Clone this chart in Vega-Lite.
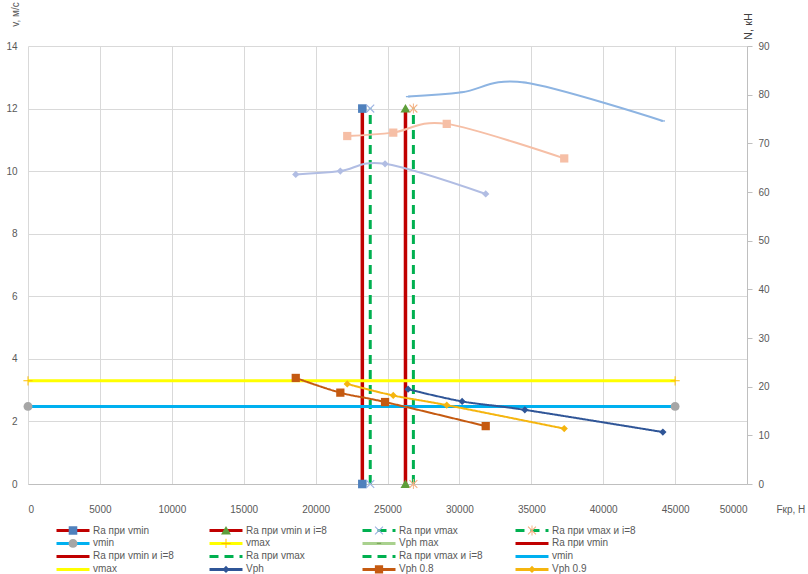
{
  "$schema": "https://vega.github.io/schema/vega-lite/v6.json",
  "width": 719,
  "height": 438,
  "autosize": {"type": "none"},
  "padding": {"left": 28, "top": 46, "right": 61, "bottom": 90},
  "background": "white",
  "config": {
    "view": {"stroke": null},
    "font": "Liberation Sans",
    "axis": {
      "labelFont": "Liberation Sans",
      "labelFontSize": 10,
      "labelColor": "#595959",
      "titleFont": "Liberation Sans",
      "titleFontSize": 10,
      "titleFontWeight": "normal",
      "titleColor": "#595959",
      "gridColor": "#D9D9D9",
      "gridWidth": 1,
      "domainColor": "#BFBFBF",
      "tickColor": "#BFBFBF"
    },
    "legend": {"labelFont": "Liberation Sans", "labelFontSize": 10, "labelColor": "#595959", "padding": 0}
  },
  "datasets": {
    "v": [
      {"s": "Ra при vmin#1", "F": 23250, "v": 0},
      {"s": "Ra при vmin#1", "F": 23250, "v": 12},
      {"s": "Ra при vmin и i=8#1", "F": 26250, "v": 0},
      {"s": "Ra при vmin и i=8#1", "F": 26250, "v": 12},
      {"s": "Ra при vmax#1", "F": 23800, "v": 0},
      {"s": "Ra при vmax#1", "F": 23800, "v": 12},
      {"s": "Ra при vmax и i=8#1", "F": 26800, "v": 0},
      {"s": "Ra при vmax и i=8#1", "F": 26800, "v": 12},
      {"s": "vmin#1", "F": 0, "v": 2.48},
      {"s": "vmin#1", "F": 45000, "v": 2.48},
      {"s": "vmax#1", "F": 0, "v": 3.3},
      {"s": "vmax#1", "F": 45000, "v": 3.3},
      {"s": "Vph", "F": 26430, "v": 3.03},
      {"s": "Vph", "F": 30190, "v": 2.64},
      {"s": "Vph", "F": 34550, "v": 2.37},
      {"s": "Vph", "F": 44150, "v": 1.66},
      {"s": "Vph 0.8", "F": 18620, "v": 3.39},
      {"s": "Vph 0.8", "F": 21720, "v": 2.92},
      {"s": "Vph 0.8", "F": 24830, "v": 2.62},
      {"s": "Vph 0.8", "F": 31830, "v": 1.85},
      {"s": "Vph 0.9", "F": 22200, "v": 3.2},
      {"s": "Vph 0.9", "F": 25400, "v": 2.83},
      {"s": "Vph 0.9", "F": 29120, "v": 2.52},
      {"s": "Vph 0.9", "F": 37290, "v": 1.77}
    ],
    "n": [
      {"s": "N Vph", "F": 26430, "N": 79.6},
      {"s": "N Vph", "F": 30190, "N": 80.5},
      {"s": "N Vph", "F": 34550, "N": 82.5},
      {"s": "N Vph", "F": 44150, "N": 74.6},
      {"s": "N Vph 0.9", "F": 22200, "N": 71.5},
      {"s": "N Vph 0.9", "F": 25400, "N": 72.2},
      {"s": "N Vph 0.9", "F": 29120, "N": 74.0},
      {"s": "N Vph 0.9", "F": 37290, "N": 66.9},
      {"s": "N Vph 0.8", "F": 18620, "N": 63.6},
      {"s": "N Vph 0.8", "F": 21720, "N": 64.3},
      {"s": "N Vph 0.8", "F": 24830, "N": 65.8},
      {"s": "N Vph 0.8", "F": 31830, "N": 59.6}
    ]
  },
  "encoding": {
    "x": {
      "field": "F",
      "type": "quantitative",
      "scale": {"domain": [0, 50000], "nice": false, "zero": false},
      "axis": {
        "values": [0, 5000, 10000, 15000, 20000, 25000, 30000, 35000, 40000, 45000, 50000],
        "format": "d",
        "grid": true,
        "ticks": false,
        "tickSize": 0,
        "domain": true,
        "labelPadding": 20,
        "title": "Fкр, Н",
        "titleX": 748,
        "titleY": 25,
        "titleAngle": 0,
        "titleAlign": "left",
        "titleAnchor": "start",
        "titleBaseline": "middle"
      }
    }
  },
  "layer": [
    {
      "data": {"name": "v"},
      "encoding": {
        "y": {
          "field": "v",
          "type": "quantitative",
          "scale": {"domain": [0, 14], "nice": false},
          "axis": {
            "orient": "left",
            "values": [0, 2, 4, 6, 8, 10, 12, 14],
            "grid": true,
            "domain": false,
            "ticks": false,
            "tickSize": 0,
            "labelPadding": 11,
            "title": "v, м/с",
            "titleAngle": -90,
            "titleX": -13,
            "titleY": -32,
            "titleAlign": "center",
            "titleBaseline": "middle"
          }
        }
      },
      "layer": [
        {
          "mark": {"type": "line", "interpolate": "cardinal", "strokeCap": "butt"},
          "encoding": {
            "stroke": {
              "field": "s",
              "type": "nominal",
              "scale": {
                "domain": ["Ra при vmin#1", "Ra при vmin и i=8#1", "Ra при vmax#1", "Ra при vmax и i=8#1", "vmin#1", "vmax#1", "Vph max", "Ra при vmin#2", "Ra при vmin и i=8#2", "Ra при vmax#2", "Ra при vmax и i=8#2", "vmin#2", "vmax#2", "Vph", "Vph 0.8", "Vph 0.9", "N Vph", "N Vph 0.9", "N Vph 0.8"],
                "range": ["#C00000", "#C00000", "#00B050", "#00B050", "#00B0F0", "#FFFF00", "#A9D18E", "#C00000", "#C00000", "#00B050", "#00B050", "#00B0F0", "#FFFF00", "#2F5597", "#C55A11", "#F5B50F", "#8DB4E2", "#F6BFA6", "#B1BDE3"]
              },
              "legend": {
                "orient": "none", "direction": "horizontal", "legendX": 27, "legendY": 478, "columns": 4, "gridAlign": "all",
                "columnPadding": 31, "rowPadding": 0, "clipHeight": 12.8, "symbolSize": 1089, "symbolStrokeWidth": 3,
                "symbolType": "M-1,0H1M0,-0.3M0,0.3", "labelOffset": 2, "labelLimit": 300, "title": null,
                "values": ["Ra при vmin#1", "Ra при vmin и i=8#1", "Ra при vmax#1", "Ra при vmax и i=8#1", "vmin#1", "vmax#1", "Vph max", "Ra при vmin#2", "Ra при vmin и i=8#2", "Ra при vmax#2", "Ra при vmax и i=8#2", "vmin#2", "vmax#2", "Vph", "Vph 0.8", "Vph 0.9"],
                "labelExpr": "split(datum.label, '#')[0]"
              }
            },
            "strokeDash": {
              "field": "s",
              "type": "nominal",
              "scale": {
                "domain": ["Ra при vmin#1", "Ra при vmin и i=8#1", "Ra при vmax#1", "Ra при vmax и i=8#1", "vmin#1", "vmax#1", "Vph max", "Ra при vmin#2", "Ra при vmin и i=8#2", "Ra при vmax#2", "Ra при vmax и i=8#2", "vmin#2", "vmax#2", "Vph", "Vph 0.8", "Vph 0.9", "N Vph", "N Vph 0.9", "N Vph 0.8"],
                "range": [[1, 0], [1, 0], [9, 6], [9, 6], [1, 0], [1, 0], [1, 0], [1, 0], [1, 0], [9, 6], [9, 6], [1, 0], [1, 0], [1, 0], [1, 0], [1, 0], [1, 0], [1, 0], [1, 0]]
              },
              "legend": {
                "orient": "none", "direction": "horizontal", "legendX": 27, "legendY": 478, "columns": 4, "gridAlign": "all",
                "columnPadding": 31, "rowPadding": 0, "clipHeight": 12.8, "symbolSize": 1089, "symbolStrokeWidth": 3,
                "symbolType": "M-1,0H1M0,-0.3M0,0.3", "labelOffset": 2, "labelLimit": 300, "title": null,
                "values": ["Ra при vmin#1", "Ra при vmin и i=8#1", "Ra при vmax#1", "Ra при vmax и i=8#1", "vmin#1", "vmax#1", "Vph max", "Ra при vmin#2", "Ra при vmin и i=8#2", "Ra при vmax#2", "Ra при vmax и i=8#2", "vmin#2", "vmax#2", "Vph", "Vph 0.8", "Vph 0.9"],
                "labelExpr": "split(datum.label, '#')[0]"
              }
            },
            "strokeWidth": {
              "condition": [
                {"test": "datum.s === 'Ra при vmin#1' || datum.s === 'Ra при vmin и i=8#1'", "value": 3.5},
                {"test": "datum.s === 'Vph' || datum.s === 'Vph 0.8' || datum.s === 'Vph 0.9'", "value": 2}
              ],
              "value": 3
            }
          }
        },
        {
          "mark": {"type": "point", "filled": true, "size": 1089, "opacity": 1, "strokeWidth": 0},
          "encoding": {
            "fill": {
              "field": "s",
              "type": "nominal",
              "scale": {
                "domain": ["N Vph", "N Vph 0.9", "N Vph 0.8", "Ra при vmin#1", "Ra при vmin и i=8#1", "Ra при vmax#1", "Ra при vmax и i=8#1", "vmin#1", "vmax#1", "Vph max", "Ra при vmin#2", "Ra при vmin и i=8#2", "Ra при vmax#2", "Ra при vmax и i=8#2", "vmin#2", "vmax#2", "Vph", "Vph 0.8", "Vph 0.9"],
                "range": ["#8DB4E2", "#F6BFA6", "#B1BDE3", "#4F81BD", "#5E9E3A", "#9DB3E3", "#F4B183", "#A6A6A6", "#FFC000", "#7FA860", "transparent", "transparent", "transparent", "transparent", "transparent", "transparent", "#2F5597", "#C55A11", "#F5B50F"]
              },
              "legend": {
                "orient": "none", "direction": "horizontal", "legendX": 27, "legendY": 478, "columns": 4, "gridAlign": "all",
                "columnPadding": 31, "rowPadding": 0, "clipHeight": 12.8, "symbolSize": 1089, "symbolStrokeWidth": 3,
                "symbolStrokeColor": "transparent", "labelOpacity": 0, "labelOffset": 2, "labelLimit": 300, "title": null,
                "values": ["Ra при vmin#1", "Ra при vmin и i=8#1", "Ra при vmax#1", "Ra при vmax и i=8#1", "vmin#1", "vmax#1", "Vph max", "Ra при vmin#2", "Ra при vmin и i=8#2", "Ra при vmax#2", "Ra при vmax и i=8#2", "vmin#2", "vmax#2", "Vph", "Vph 0.8", "Vph 0.9"],
                "labelExpr": "split(datum.label, '#')[0]"
              }
            },
            "shape": {
              "field": "s",
              "type": "nominal",
              "scale": {
                "domain": ["N Vph", "N Vph 0.9", "N Vph 0.8", "Ra при vmin#1", "Ra при vmin и i=8#1", "Ra при vmax#1", "Ra при vmax и i=8#1", "vmin#1", "vmax#1", "Vph max", "Ra при vmin#2", "Ra при vmin и i=8#2", "Ra при vmax#2", "Ra при vmax и i=8#2", "vmin#2", "vmax#2", "Vph", "Vph 0.8", "Vph 0.9"],
                "range": [
                  "M-1,0M1,0M0,-0.3M0,0.3M-0.13,-0.04H0.13V0.04H-0.13Z",
                  "M-1,0M1,0M0,-0.3M0,0.3M-0.25,-0.25H0.25V0.25H-0.25Z",
                  "M-1,0M1,0M0,-0.3M0,0.3M0,-0.22L0.22,0L0,0.22L-0.22,0Z",
                  "M-1,0M1,0M0,-0.3M0,0.3M-0.26,-0.26H0.26V0.26H-0.26Z",
                  "M-1,0M1,0M0,-0.3M0,0.3M0,-0.28L0.3,0.24H-0.3Z",
                  "M-1,0M1,0M0,-0.3M0,0.3M-0.215,-0.265L0.265,0.215L0.215,0.265L-0.265,-0.215ZM0.265,-0.215L-0.215,0.265L-0.265,0.215L0.215,-0.265Z",
                  "M-1,0M1,0M0,-0.3M0,0.3M-0.215,-0.265L0.265,0.215L0.215,0.265L-0.265,-0.215ZM0.265,-0.215L-0.215,0.265L-0.265,0.215L0.215,-0.265ZM-0.03,-0.3H0.03V0.3H-0.03Z",
                  "M-1,0M1,0M0,-0.3M0,0.3M-0.27,0A0.27,0.27,0,1,0,0.27,0A0.27,0.27,0,1,0,-0.27,0Z",
                  "M-1,0M1,0M0,-0.3M0,0.3M-0.28,-0.03H0.28V0.03H-0.28ZM-0.03,-0.28H0.03V0.28H-0.03Z",
                  "M-1,0M1,0M0,-0.3M0,0.3M-0.13,-0.04H0.13V0.04H-0.13Z",
                  "M-1,0M1,0M0,-0.3M0,0.3",
                  "M-1,0M1,0M0,-0.3M0,0.3",
                  "M-1,0M1,0M0,-0.3M0,0.3",
                  "M-1,0M1,0M0,-0.3M0,0.3",
                  "M-1,0M1,0M0,-0.3M0,0.3",
                  "M-1,0M1,0M0,-0.3M0,0.3",
                  "M-1,0M1,0M0,-0.3M0,0.3M0,-0.22L0.22,0L0,0.22L-0.22,0Z",
                  "M-1,0M1,0M0,-0.3M0,0.3M-0.25,-0.25H0.25V0.25H-0.25Z",
                  "M-1,0M1,0M0,-0.3M0,0.3M0,-0.22L0.22,0L0,0.22L-0.22,0Z"
                ]
              },
              "legend": {
                "orient": "none", "direction": "horizontal", "legendX": 27, "legendY": 478, "columns": 4, "gridAlign": "all",
                "columnPadding": 31, "rowPadding": 0, "clipHeight": 12.8, "symbolSize": 1089, "symbolStrokeWidth": 3,
                "symbolStrokeColor": "transparent", "labelOpacity": 0, "labelOffset": 2, "labelLimit": 300, "title": null,
                "values": ["Ra при vmin#1", "Ra при vmin и i=8#1", "Ra при vmax#1", "Ra при vmax и i=8#1", "vmin#1", "vmax#1", "Vph max", "Ra при vmin#2", "Ra при vmin и i=8#2", "Ra при vmax#2", "Ra при vmax и i=8#2", "vmin#2", "vmax#2", "Vph", "Vph 0.8", "Vph 0.9"],
                "labelExpr": "split(datum.label, '#')[0]"
              }
            }
          }
        }
      ]
    },
    {
      "data": {"name": "n"},
      "encoding": {
        "y": {
          "field": "N",
          "type": "quantitative",
          "scale": {"domain": [0, 90], "nice": false},
          "axis": {
            "orient": "right",
            "values": [0, 10, 20, 30, 40, 50, 60, 70, 80, 90],
            "grid": false,
            "domain": true,
            "ticks": true,
            "tickSize": 5,
            "labelPadding": 6,
            "title": "N, кН",
            "titleAngle": -90,
            "titleX": 1,
            "titleY": -20,
            "titleAlign": "center",
            "titleBaseline": "middle",
            "titleColor": "#404040",
            "titleFontSize": 11
          }
        }
      },
      "layer": [
        {
          "mark": {"type": "line", "interpolate": "cardinal", "strokeWidth": 2},
          "encoding": {
            "stroke": {
              "field": "s",
              "type": "nominal",
              "scale": {
                "domain": ["Ra при vmin#1", "Ra при vmin и i=8#1", "Ra при vmax#1", "Ra при vmax и i=8#1", "vmin#1", "vmax#1", "Vph max", "Ra при vmin#2", "Ra при vmin и i=8#2", "Ra при vmax#2", "Ra при vmax и i=8#2", "vmin#2", "vmax#2", "Vph", "Vph 0.8", "Vph 0.9", "N Vph", "N Vph 0.9", "N Vph 0.8"],
                "range": ["#C00000", "#C00000", "#00B050", "#00B050", "#00B0F0", "#FFFF00", "#A9D18E", "#C00000", "#C00000", "#00B050", "#00B050", "#00B0F0", "#FFFF00", "#2F5597", "#C55A11", "#F5B50F", "#8DB4E2", "#F6BFA6", "#B1BDE3"]
              }
            }
          }
        },
        {
          "mark": {"type": "point", "filled": true, "size": 1089, "opacity": 1, "strokeWidth": 0},
          "encoding": {
            "fill": {
              "field": "s",
              "type": "nominal",
              "scale": {
                "domain": ["N Vph", "N Vph 0.9", "N Vph 0.8", "Ra при vmin#1", "Ra при vmin и i=8#1", "Ra при vmax#1", "Ra при vmax и i=8#1", "vmin#1", "vmax#1", "Vph max", "Ra при vmin#2", "Ra при vmin и i=8#2", "Ra при vmax#2", "Ra при vmax и i=8#2", "vmin#2", "vmax#2", "Vph", "Vph 0.8", "Vph 0.9"],
                "range": ["#8DB4E2", "#F6BFA6", "#B1BDE3", "#4F81BD", "#5E9E3A", "#9DB3E3", "#F4B183", "#A6A6A6", "#FFC000", "#7FA860", "transparent", "transparent", "transparent", "transparent", "transparent", "transparent", "#2F5597", "#C55A11", "#F5B50F"]
              }
            },
            "shape": {
              "field": "s",
              "type": "nominal",
              "scale": {
                "domain": ["N Vph", "N Vph 0.9", "N Vph 0.8", "Ra при vmin#1", "Ra при vmin и i=8#1", "Ra при vmax#1", "Ra при vmax и i=8#1", "vmin#1", "vmax#1", "Vph max", "Ra при vmin#2", "Ra при vmin и i=8#2", "Ra при vmax#2", "Ra при vmax и i=8#2", "vmin#2", "vmax#2", "Vph", "Vph 0.8", "Vph 0.9"],
                "range": [
                  "M-1,0M1,0M0,-0.3M0,0.3M-0.13,-0.04H0.13V0.04H-0.13Z",
                  "M-1,0M1,0M0,-0.3M0,0.3M-0.25,-0.25H0.25V0.25H-0.25Z",
                  "M-1,0M1,0M0,-0.3M0,0.3M0,-0.22L0.22,0L0,0.22L-0.22,0Z",
                  "M-1,0M1,0M0,-0.3M0,0.3M-0.26,-0.26H0.26V0.26H-0.26Z",
                  "M-1,0M1,0M0,-0.3M0,0.3M0,-0.28L0.3,0.24H-0.3Z",
                  "M-1,0M1,0M0,-0.3M0,0.3M-0.215,-0.265L0.265,0.215L0.215,0.265L-0.265,-0.215ZM0.265,-0.215L-0.215,0.265L-0.265,0.215L0.215,-0.265Z",
                  "M-1,0M1,0M0,-0.3M0,0.3M-0.215,-0.265L0.265,0.215L0.215,0.265L-0.265,-0.215ZM0.265,-0.215L-0.215,0.265L-0.265,0.215L0.215,-0.265ZM-0.03,-0.3H0.03V0.3H-0.03Z",
                  "M-1,0M1,0M0,-0.3M0,0.3M-0.27,0A0.27,0.27,0,1,0,0.27,0A0.27,0.27,0,1,0,-0.27,0Z",
                  "M-1,0M1,0M0,-0.3M0,0.3M-0.28,-0.03H0.28V0.03H-0.28ZM-0.03,-0.28H0.03V0.28H-0.03Z",
                  "M-1,0M1,0M0,-0.3M0,0.3M-0.13,-0.04H0.13V0.04H-0.13Z",
                  "M-1,0M1,0M0,-0.3M0,0.3",
                  "M-1,0M1,0M0,-0.3M0,0.3",
                  "M-1,0M1,0M0,-0.3M0,0.3",
                  "M-1,0M1,0M0,-0.3M0,0.3",
                  "M-1,0M1,0M0,-0.3M0,0.3",
                  "M-1,0M1,0M0,-0.3M0,0.3",
                  "M-1,0M1,0M0,-0.3M0,0.3M0,-0.22L0.22,0L0,0.22L-0.22,0Z",
                  "M-1,0M1,0M0,-0.3M0,0.3M-0.25,-0.25H0.25V0.25H-0.25Z",
                  "M-1,0M1,0M0,-0.3M0,0.3M0,-0.22L0.22,0L0,0.22L-0.22,0Z"
                ]
              }
            }
          }
        }
      ]
    }
  ],
  "resolve": {"scale": {"y": "independent"}}
}
